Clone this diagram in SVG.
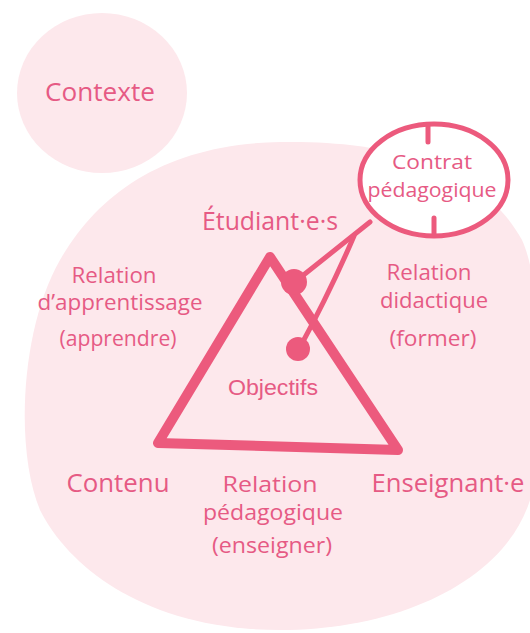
<svg xmlns="http://www.w3.org/2000/svg" width="530" height="633" viewBox="0 0 530 633">
<style>
.bg{fill:#fde8ec;stroke:none}
.t{font-family:"Open Sans","DejaVu Sans",sans-serif;fill:#e65a84;text-anchor:middle}
.lg{font-size:26px}
.sm{font-size:22px}
.xs{font-size:20px}
.ob{font-family:"Liberation Sans",Arial,sans-serif;font-size:22px;fill:#e65a84;text-anchor:middle}
.ln{fill:none;stroke:#ec5a7d;stroke-linecap:round;stroke-linejoin:round}
.dot{fill:#ec5a7d}
</style>
<rect width="530" height="633" fill="#ffffff"/>
<g id="contexte">
<ellipse class="bg" cx="102" cy="93" rx="85" ry="80"/>
<text class="t lg" x="100" y="101" textLength="110" lengthAdjust="spacingAndGlyphs">Contexte</text>
</g>
<g id="systeme">
<path class="bg" d="M280,142 C390,140 480,165 522,240 C545,290 545,440 530,500 C505,580 400,630 280,630 C150,630 70,570 40,510 C15,450 20,330 60,260 C100,190 170,144 280,142 Z"/>
</g>
<g id="triangle">
<path class="ln" stroke-width="10" d="M270,257 L158,443 L398,450 Z"/>
</g>
<g id="connectors">
<path class="ln" stroke-width="5" d="M370,222 L296,281"/>
<path class="ln" stroke-width="5" d="M354,236 Q330,292 299,349"/>
<circle class="dot" cx="294" cy="282" r="13"/>
<circle class="dot" cx="298" cy="349" r="12"/>
</g>
<g id="contrat">
<ellipse cx="434" cy="180" rx="74" ry="56" fill="#ffffff" stroke="#ec5a7d" stroke-width="5"/>
<path class="ln" stroke-width="5" d="M428,125 L428,142 M434,218 L434,235"/>
<text class="t xs" x="432" y="169" textLength="80" lengthAdjust="spacingAndGlyphs">Contrat</text>
<text class="t xs" x="432" y="197" textLength="129" lengthAdjust="spacingAndGlyphs">pédagogique</text>
</g>
<g id="etudiants">
<text class="t lg" x="270" y="230" textLength="136" lengthAdjust="spacingAndGlyphs">Étudiant·e·s</text>
</g>
<g id="contenu">
<text class="t lg" x="118" y="492" textLength="103" lengthAdjust="spacingAndGlyphs">Contenu</text>
</g>
<g id="enseignant">
<text class="t lg" x="448" y="492" textLength="153" lengthAdjust="spacingAndGlyphs">Enseignant·e</text>
</g>
<g id="objectifs">
<text class="ob" x="273" y="395" textLength="90" lengthAdjust="spacingAndGlyphs">Objectifs</text>
</g>
<g id="rel-apprentissage">
<text class="t sm" x="114" y="283" textLength="85" lengthAdjust="spacingAndGlyphs">Relation</text>
<text class="t sm" x="120" y="310" textLength="165" lengthAdjust="spacingAndGlyphs">d’apprentissage</text>
<text class="t sm" x="118" y="346" textLength="117" lengthAdjust="spacingAndGlyphs">(apprendre)</text>
</g>
<g id="rel-didactique">
<text class="t sm" x="429" y="280" textLength="85" lengthAdjust="spacingAndGlyphs">Relation</text>
<text class="t sm" x="434" y="308" textLength="108" lengthAdjust="spacingAndGlyphs">didactique</text>
<text class="t sm" x="433" y="346" textLength="87" lengthAdjust="spacingAndGlyphs">(former)</text>
</g>
<g id="rel-pedagogique">
<text class="t sm" x="270" y="492" textLength="95" lengthAdjust="spacingAndGlyphs">Relation</text>
<text class="t sm" x="273" y="520" textLength="140" lengthAdjust="spacingAndGlyphs">pédagogique</text>
<text class="t sm" x="272" y="553" textLength="120" lengthAdjust="spacingAndGlyphs">(enseigner)</text>
</g>
</svg>
